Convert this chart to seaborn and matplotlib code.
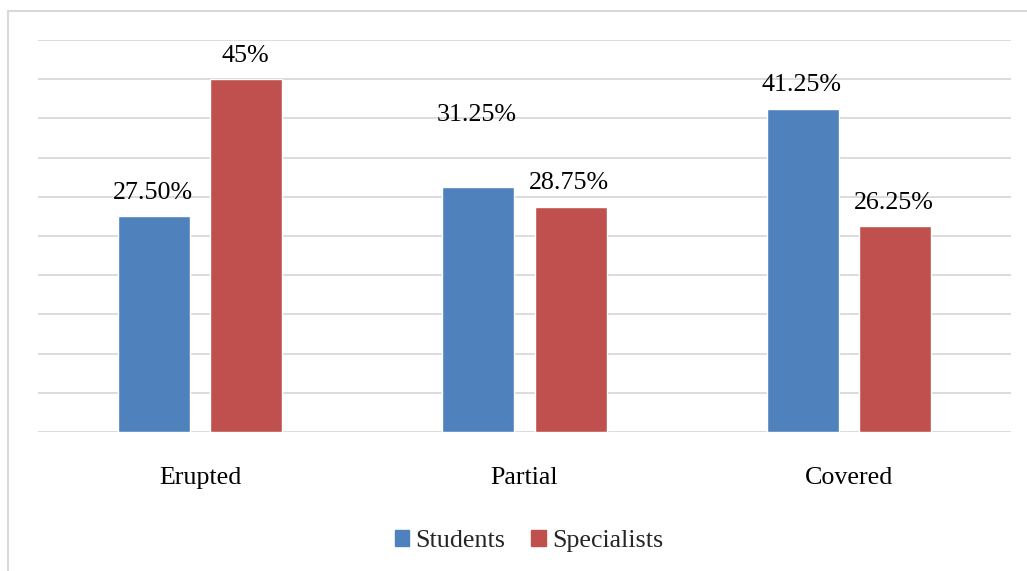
import matplotlib
matplotlib.use("Agg")
import matplotlib.pyplot as plt
import matplotlib.patches as mpatches
import seaborn as sns
import pandas as pd

# Chart data
categories = ["Erupted", "Partial", "Covered"]
series_names = ["Students", "Specialists"]
students = [27.50, 31.25, 41.25]
specialists = [45.0, 28.75, 26.25]
value_labels = {
    "Students": ["27.50%", "31.25%", "41.25%"],
    "Specialists": ["45%", "28.75%", "26.25%"],
}

colors = {"Students": "#4F81BD", "Specialists": "#C0504D"}
grid_color = "#D9D9D9"

df = pd.DataFrame({
    "category": categories * 2,
    "group": [series_names[0]] * 3 + [series_names[1]] * 3,
    "value": students + specialists,
})

sns.set_theme(style="white")
plt.rcParams["font.family"] = ["Liberation Serif", "DejaVu Serif"]
FS = 18.7

fig = plt.figure(figsize=(10.27, 5.71), dpi=100)
ax = fig.add_axes([38 / 1027, 1 - 432 / 571, (1011 - 38) / 1027, (432 - 40) / 571])

sns.barplot(data=df, x="category", y="value", hue="group", order=categories,
            hue_order=series_names, palette=colors, width=0.57, gap=0.22,
            saturation=1, legend=False, ax=ax, errorbar=None)

ax.set_ylim(0, 50)
ax.set_xlim(-0.5, 2.5)
ax.set_yticks(range(0, 51, 5))
ax.yaxis.grid(True, color=grid_color, linewidth=1.3)
ax.set_axisbelow(True)
ax.tick_params(axis="y", left=False, labelleft=False)
ax.tick_params(axis="x", bottom=False, labelsize=FS, pad=19, labelcolor="black")
ax.set_xlabel("")
ax.set_ylabel("")
for s in ax.spines.values():
    s.set_visible(False)

# Value labels above each bar (the Partial student label sits higher)
label_offset = {("Students", 1): 52}
for name, cont in zip(series_names, ax.containers):
    for i, bar in enumerate(cont):
        dy = label_offset.get((name, i), 17)
        ax.annotate(value_labels[name][i],
                    (bar.get_x() + bar.get_width() / 2, bar.get_height()),
                    xytext=(-1, dy), textcoords="offset points",
                    ha="center", va="center", fontsize=FS, color="black")

# Legend
handles = [mpatches.Patch(color=colors[n], label=n) for n in series_names]
fig.legend(handles=handles, loc="center", bbox_to_anchor=(529 / 1027, 1 - 541 / 571),
           ncol=2, frameon=False, fontsize=FS, handlelength=0.55, handleheight=0.55,
           handletextpad=0.25, columnspacing=1.0, borderpad=0)

# Chart area border
fig.add_artist(mpatches.Rectangle((8 / 1027, -0.05), 1.1, 1 - 11 / 571 + 0.05,
                                  transform=fig.transFigure, fill=False,
                                  edgecolor=grid_color, linewidth=1.5))

fig.savefig("out.png", dpi=100, facecolor="white")
